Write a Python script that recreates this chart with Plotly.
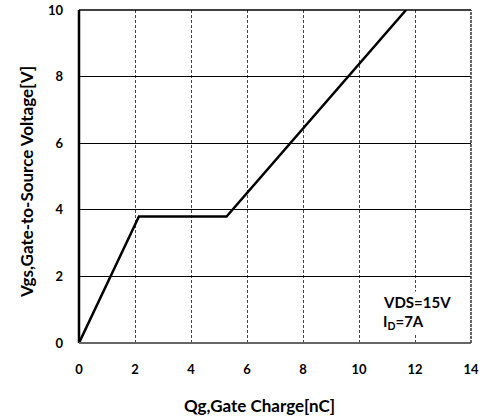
import plotly.graph_objects as go

qg = [0, 2.14, 5.27, 11.68]
vgs = [0, 3.8, 3.8, 10]
x_ticks = [0, 2, 4, 6, 8, 10, 12, 14]
y_ticks = [0, 2, 4, 6, 8, 10]
x_title = "Qg,Gate Charge[nC]"
y_title = "Vgs,Gate-to-Source Voltage[V]"
cond_lines = ["VDS=15V", "I<sub>D</sub>=7A"]

FONT = "Lato"

fig = go.Figure()
fig.add_trace(go.Scatter(x=qg, y=vgs, mode="lines",
                         line=dict(color="black", width=2.5), showlegend=False))

fig.update_layout(
    width=484, height=420,
    margin=dict(l=79, r=13, t=10, b=77, autoexpand=False),
    plot_bgcolor="white", paper_bgcolor="white",
    font=dict(family=FONT, color="black"),
    xaxis=dict(range=[0, 14], tickvals=x_ticks, showgrid=True, gridcolor="#444444",
               griddash="3px,2px", gridwidth=1, zeroline=False, automargin=False,
               showline=False, ticks="",
               tickfont=dict(family=FONT, size=13, weight="bold"), ticklabelstandoff=17),
    yaxis=dict(range=[0, 10], tickvals=y_ticks, showgrid=True, gridcolor="black",
               gridwidth=1, zeroline=False, showline=False, ticks="", automargin=False,
               tickfont=dict(family=FONT, size=13, weight="bold"), ticklabelstandoff=15),
)

# frame lines
fig.add_shape(type="line", xref="paper", yref="paper", x0=0, x1=0, y0=0, y1=1,
              line=dict(color="black", width=2.5))
fig.add_shape(type="line", xref="paper", yref="paper", x0=0, x1=1, y0=0, y1=0,
              line=dict(color="#666666", width=2))
fig.add_shape(type="line", xref="paper", yref="paper", x0=0, x1=1, y0=1, y1=1,
              line=dict(color="black", width=1.5))
fig.add_shape(type="line", xref="paper", yref="paper", x0=1, x1=1, y0=0, y1=1,
              line=dict(color="#333333", width=1.5, dash="3px,1px"))

# axis titles
fig.add_annotation(x=0.4617, y=0, xref="paper", yref="paper", yshift=-62,
                   xanchor="center", yanchor="middle", text=x_title, showarrow=False,
                   font=dict(family=FONT, size=17, weight="bold"))
fig.add_annotation(x=0, y=0.4835, xref="paper", yref="paper", xshift=-52,
                   xanchor="center", yanchor="middle", text=y_title, showarrow=False,
                   textangle=-90, font=dict(family=FONT, size=17, weight="bold"))

fig.add_annotation(x=10.78, y=1.24, xref="x", yref="y", xanchor="left", yanchor="middle",
                   text=cond_lines[0], showarrow=False, bgcolor="white",
                   font=dict(family=FONT, size=15, weight="bold"))
fig.add_annotation(x=10.78, y=0.64, xref="x", yref="y", xanchor="left", yanchor="middle",
                   text=cond_lines[1], showarrow=False, bgcolor="white",
                   font=dict(family=FONT, size=15, weight="bold"))

fig.write_html("out.html", config={"displayModeBar": False},
               post_script="document.body.style.margin='0px';")
